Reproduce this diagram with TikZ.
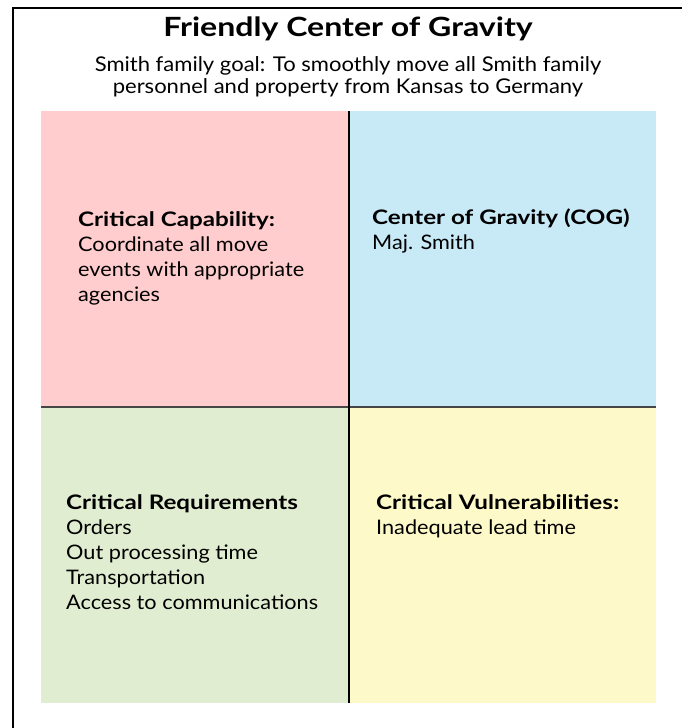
\documentclass[tikz,border=0pt]{standalone}
\usepackage{fontspec}
\setmainfont{Lato}[FakeStretch=1.085, BoldFeatures={FakeStretch=1.21}]
\definecolor{capfill}{RGB}{255,205,205}
\definecolor{cogfill}{RGB}{200,233,246}
\definecolor{reqfill}{RGB}{225,237,208}
\definecolor{vulfill}{RGB}{253,249,201}
\definecolor{divgray}{RGB}{70,70,70}
\tikzset{
  quad/.style={rectangle, draw=none, inner sep=0pt, anchor=north west,
    minimum width=307.5pt, minimum height=296pt},
  body/.style={inner sep=0pt, anchor=base west, align=left,
    font=\fontsize{20}{25}\selectfont},
  frame/.style={line width=2.4pt, black},
}
\newcommand{\lines}[1]{\begin{tabular}[t]{@{}l@{}}#1\end{tabular}}
\begin{document}
\begin{tikzpicture}[x=1pt,y=-1pt]
\useasboundingbox (0,0) rectangle (682,728);

% outer frame: top and left edges only
\coordinate (fa) at (682,8);
\coordinate (fc) at (13,8);
\coordinate (fb) at (13,728);
\draw[frame] (fa) -- (fc) -- (fb);

% heading
\node[inner sep=0pt, anchor=base, font=\fontsize{26.5}{30}\selectfont\bfseries]
  (title) at (348,36.5) {Friendly Center of Gravity};
\node[inner sep=0pt, anchor=base, font=\fontsize{20.3}{21.8}\selectfont]
  (goal) at (348,71.5) {\begin{tabular}[t]{@{}c@{}}Smith family goal: To smoothly move all Smith family\\personnel and property from Kansas to Germany\end{tabular}};

% quadrants
\node[quad, fill=capfill] (cap) at (41,111) {};
\node[quad, fill=cogfill] (cog) at (348,111) {};
\node[quad, fill=reqfill] (req) at (41,407) {};
\node[quad, fill=vulfill] (vul) at (348,407) {};

% dividers
\draw[divgray, line width=2pt] (cap.south west) -- (cog.south east);
\draw[black, line width=1.8pt] (cap.north east) -- (req.south east);

% quadrant texts
\node[body] (captext) at (78,226.5) {\lines{\textbf{Critical Capability:}\\Coordinate all move\\events with appropriate\\agencies}};
\node[body] (cogtext) at (372,224) {\lines{\textbf{Center of Gravity (COG)}\\Maj. Smith}};
\node[body] (reqtext) at (66,509.5) {\lines{\textbf{Critical Requirements}\\Orders\\Out processing time\\Transportation\\Access to communications}};
\node[body] (vultext) at (376,509.5) {\lines{\textbf{Critical Vulnerabilities:}\\Inadequate lead time}};
\end{tikzpicture}
\end{document}
